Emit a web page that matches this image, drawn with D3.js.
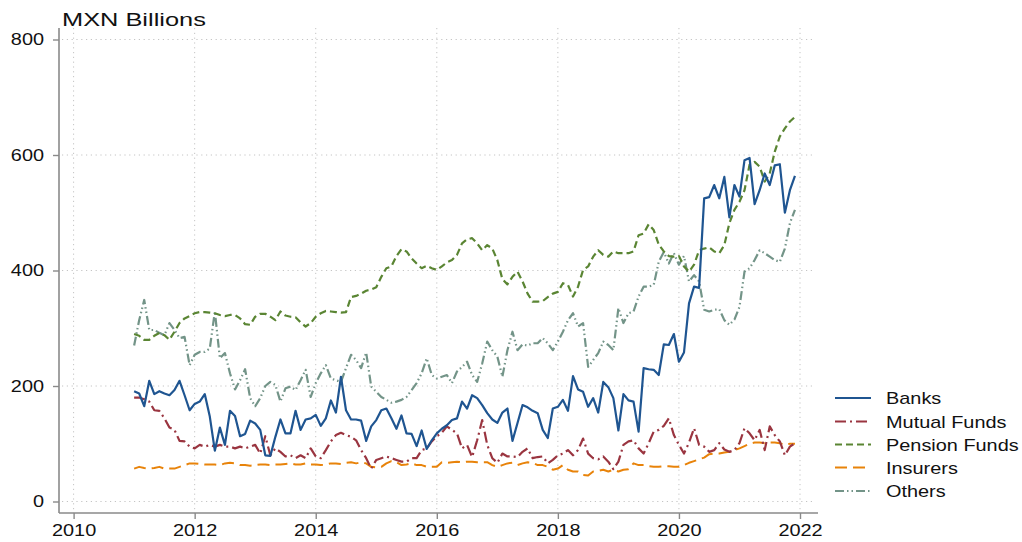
<!DOCTYPE html>
<html><head><meta charset="utf-8">
<script src="https://cdn.jsdelivr.net/npm/d3@7"></script>
<style>
html,body{margin:0;padding:0;background:#fff;}
svg{display:block;}
text{font-family:"Liberation Sans",Arial,sans-serif;fill:#111;}
</style></head>
<body>
<svg id="chart" width="1022" height="542"></svg>
<script>
const startYear = 2011;
const banks = [
191,187,165,209,186,191,187,184,193,209,184,158,
169,173,186,147,88,128,98,157,148,113,117,140,
135,124,80,79,112,142,118,118,157,124,142,144,
150,131,144,175,154,216,158,142,142,140,105,130,
141,158,161,144,126,149,118,117,96,123,91,106,
118,126,132,141,144,173,161,184,179,167,153,142,
136,154,161,105,136,167,163,157,153,124,110,161,
164,176,157,217,194,190,164,179,154,207,198,179,
123,186,175,173,121,231,229,228,219,272,271,290,
242,258,343,372,370,525,527,548,525,562,492,548,
528,591,595,515,539,568,548,582,584,500,539,564];
const mutualFunds = [
180,180,177,173,158,157,144,128,124,105,104,95,
92,98,95,98,95,98,95,95,92,95,92,95,
98,83,113,80,92,86,78,80,75,80,75,92,
78,75,89,104,115,119,115,112,106,89,75,57,
72,75,78,75,72,69,69,75,75,89,92,104,
113,119,130,124,118,92,98,77,106,141,98,75,
67,83,78,78,77,86,92,75,77,78,66,72,
80,83,89,80,89,109,83,75,73,78,69,56,
69,98,104,106,92,83,101,121,124,131,144,115,
98,83,102,127,98,95,86,89,101,90,86,89,
101,127,118,106,124,89,130,115,104,80,95,101];
const pensionFunds = [
290,287,280,280,287,292,288,280,294,309,317,321,
326,328,328,327,326,323,321,323,323,317,307,306,
320,325,325,320,314,329,322,320,319,310,303,309,
320,326,330,329,328,327,328,354,356,360,365,367,
371,389,404,407,425,437,433,421,412,404,408,404,
401,407,414,418,427,447,454,456,447,435,444,438,
418,385,376,389,398,381,360,346,346,347,354,360,
363,378,375,355,372,401,407,424,435,427,424,433,
430,430,430,433,461,464,480,470,445,433,425,424,
425,407,398,410,435,438,440,433,430,444,482,505,
519,539,583,588,580,554,568,606,632,646,658,666];
const insurers = [
57,60,58,57,58,60,57,57,57,60,63,66,
66,65,64,64,64,63,66,67,66,63,63,62,
63,64,64,63,64,64,65,66,64,64,66,64,
64,63,64,66,66,65,67,68,66,68,66,60,
59,60,66,70,68,63,64,66,63,63,60,60,
60,68,67,68,69,68,69,69,68,68,68,63,
60,63,66,67,63,66,68,67,63,63,60,55,
57,63,55,52,52,46,45,52,53,55,52,55,
52,55,56,66,63,63,61,60,60,61,61,60,
60,63,67,70,73,76,82,83,83,85,86,89,
92,96,100,102,102,101,102,102,101,98,100,100];
const others = [
270,314,349,297,297,292,288,309,297,283,285,236,
254,259,259,265,329,248,257,222,194,210,229,179,
165,179,200,207,202,173,196,199,193,210,228,181,
205,222,236,213,210,207,231,254,245,231,258,199,
190,181,176,171,173,176,181,193,205,222,248,219,
213,216,219,205,225,233,242,219,207,239,277,262,
251,216,262,294,262,272,270,274,274,283,274,262,
277,294,314,326,303,309,233,245,257,277,271,262,
335,309,326,329,355,372,372,375,415,432,412,430,
410,425,381,392,381,332,329,332,333,314,306,315,
337,398,404,418,435,430,424,418,415,438,482,505];

const seriesNames = ["Banks","Mutual Funds","Pension Funds","Insurers","Others"];
const xTicks = [2010,2012,2014,2016,2018,2020,2022];
const yTicks = [0,200,400,600,800];
const title = "MXN Billions";

const series = [
  {name:seriesNames[0], values:banks,        color:"#1f5591", dash:null,            w:2.2},
  {name:seriesNames[1], values:mutualFunds,  color:"#9a3540", dash:"11,4,2,4",      w:2.2},
  {name:seriesNames[2], values:pensionFunds, color:"#5a8533", dash:"7,4",           w:2.2},
  {name:seriesNames[3], values:insurers,     color:"#e8830a", dash:"12,6",          w:2.0},
  {name:seriesNames[4], values:others,       color:"#739488", dash:"9,3,1.5,3,1.5,3", w:2.2}
];

const svg = d3.select("#chart");
const x = d3.scaleLinear().domain([2010,2022]).range([73.6,800]);
const y = d3.scaleLinear().domain([0,800]).range([501.5,39.5]);
const axisX0 = 59, axisY0 = 513, plotTop = 28, plotRight = 818;

// grid
const grid = svg.append("g");
grid.selectAll("line.h").data(yTicks).join("line")
  .attr("x1",62).attr("x2",812).attr("y1",d=>y(d)).attr("y2",d=>y(d))
  .attr("stroke","#c4c4c4").attr("stroke-width",1).attr("stroke-dasharray","1.2,3.6");
grid.selectAll("line.v").data(xTicks).join("line")
  .attr("y1",plotTop).attr("y2",axisY0).attr("x1",d=>x(d)).attr("x2",d=>x(d))
  .attr("stroke","#c4c4c4").attr("stroke-width",1).attr("stroke-dasharray","1.2,3.6");

// axes
const yAxis = d3.axisLeft(y).tickValues(yTicks).tickSize(6).tickPadding(9).tickFormat(d3.format("d"));
const gy = svg.append("g").attr("transform",`translate(${axisX0},0)`).call(yAxis);
gy.select(".domain").attr("d",`M0,${plotTop}V${axisY0}`);
const xAxis = d3.axisBottom(x).tickValues(xTicks).tickSize(6).tickPadding(5).tickFormat(d3.format("d"));
const gx = svg.append("g").attr("transform",`translate(0,${axisY0})`).call(xAxis);
gx.select(".domain").attr("d",`M${axisX0},0H${plotRight}`);
[gx,gy].forEach(g=>{
  g.selectAll(".domain").attr("stroke","#8a8a8a").attr("stroke-width",1.6);
  g.selectAll(".tick line").attr("stroke","#8a8a8a").attr("stroke-width",1.4);
  g.selectAll(".tick text").attr("font-family","Liberation Sans, Arial, sans-serif")
    .attr("font-size",17).attr("fill","#111");
});

// lines
const line = d3.line().x((d,i)=>x(startYear + i/12)).y(d=>y(d));
svg.append("g").selectAll("path").data(series.slice().reverse()).join("path")
  .attr("d",d=>line(d.values)).attr("fill","none")
  .attr("stroke",d=>d.color).attr("stroke-width",d=>d.w)
  .attr("stroke-dasharray",d=>d.dash).attr("stroke-linejoin","round");

// title
svg.append("text").attr("x",62).attr("y",25.5).attr("font-size",17.5).text(title);

// legend
const lg = svg.append("g");
const rowY = [398,421.5,444.5,467.5,491];
series.forEach((s,i)=>{
  lg.append("line").attr("x1",835).attr("x2",871).attr("y1",rowY[i]).attr("y2",rowY[i])
    .attr("stroke",s.color).attr("stroke-width",2).attr("stroke-dasharray",s.dash);
  lg.append("text").attr("x",886).attr("y",rowY[i]).attr("dy","0.36em")
    .attr("font-size",17).text(s.name);
});

// stretch text horizontally to match reference proportions
svg.selectAll("text").each(function(){
  const w = this.getComputedTextLength();
  const k = this.textContent === title ? 1.45 : 1.17;
  d3.select(this).attr("textLength", w*k).attr("lengthAdjust","spacingAndGlyphs");
});
</script>
</body></html>
